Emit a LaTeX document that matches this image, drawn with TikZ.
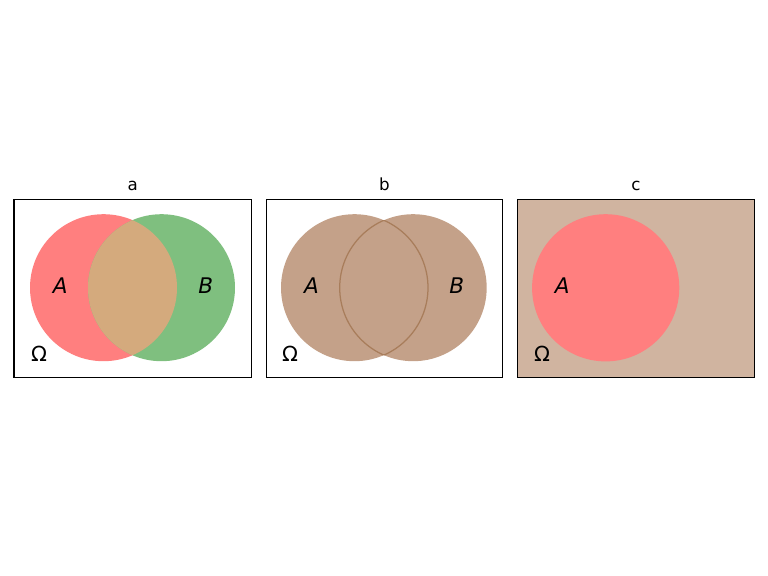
\documentclass[tikz,border=0pt]{standalone}
\usepackage{fontspec}
\setmainfont{DejaVu Sans}
\usetikzlibrary{calc}

\definecolor{setA}{HTML}{FF7F7F}
\definecolor{setB}{HTML}{7FBF7F}
\definecolor{setAB}{HTML}{D4AA7D}
\definecolor{union}{HTML}{C4A189}
\definecolor{lens}{HTML}{A87D5B}
\definecolor{omega}{HTML}{D0B4A0}

\tikzset{
    ttl/.style={anchor=base,font=\fontsize{12}{14}\selectfont},
    lbl/.style={anchor=base,font=\fontsize{15.5}{18}\selectfont\itshape},
    omg/.style={anchor=base,font=\fontsize{15}{18}\selectfont},
    frame/.style={draw=black,line width=0.8pt}
}

\begin{document}
\begin{tikzpicture}[x=0.72pt,y=-0.72pt]
    \useasboundingbox (0,0) rectangle (768,576);

    % a
    \fill[setA] (103.5,287.7) circle (73.5);
    \fill[setB] (161.5,287.7) circle (73.5);
    \begin{scope}
        \clip (103.5,287.7) circle (73.5);
        \fill[setAB] (161.5,287.7) circle (73.5);
    \end{scope}
    \draw[frame] (14,199.3) rectangle (251.5,377.3);
    \node[lbl] (aA) at (60.3,294) {A};
    \node[lbl] (aB) at (205.7,294) {B};
    \node[omg] (aO) at (39,361) {Ω};

    % b
    \fill[union] (354.5,287.7) circle (73.5);
    \fill[union] (413.2,287.7) circle (73.5);
    \begin{scope}
        \clip (354.5,287.7) circle (73.5);
        \draw[lens,line width=0.9pt] (413.2,287.7) circle (73.5);
    \end{scope}
    \begin{scope}
        \clip (413.2,287.7) circle (73.5);
        \draw[lens,line width=0.9pt] (354.5,287.7) circle (73.5);
    \end{scope}
    \draw[frame] (266.5,199.3) rectangle (502.3,377.3);
    \node[lbl] (bA) at (311.5,294) {A};
    \node[lbl] (bB) at (456.7,294) {B};
    \node[omg] (bO) at (290,361) {Ω};

    % c
    \fill[omega] (517.3,199.3) rectangle (754.5,377.3);
    \fill[setA] (605.7,287.8) circle (73.6);
    \draw[frame] (517.3,199.3) rectangle (754.5,377.3);
    \node[lbl] (cA) at (562.3,294) {A};
    \node[omg] (cO) at (542,361) {Ω};

    \foreach \x/\t in {132.7/a,384.4/b,635.9/c}
        \node[ttl] (t\t) at (\x,190.7) {\t};
\end{tikzpicture}
\end{document}
